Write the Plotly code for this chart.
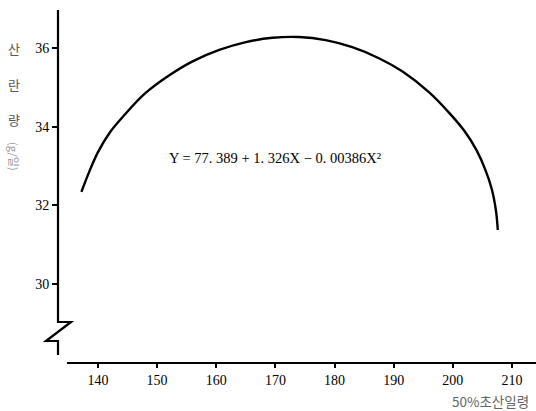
import plotly.graph_objects as go

# Data (X: 50% age at first laying, Y: laying amount)
x_vals = [137.2, 138.6, 140.0, 142.0, 144.5, 148.0, 152.0, 156.0, 160.5,
          165.0, 169.5, 174.0, 178.5, 183.0, 187.5, 191.5, 196.0, 199.5,
          202.0, 204.0, 205.5, 206.6, 207.3, 207.6]
y_vals = [32.34, 32.88, 33.35, 33.85, 34.30, 34.85, 35.30, 35.66, 35.95,
          36.15, 36.26, 36.28, 36.20, 36.02, 35.74, 35.40, 34.87, 34.33,
          33.88, 33.40, 32.90, 32.40, 31.85, 31.37]
x_ticks = [140, 150, 160, 170, 180, 190, 200, 210]
y_ticks = [30, 32, 34, 36]
equation = "Y = 77. 389 + 1. 326X − 0. 00386X²"

W, H = 536, 411
L, R, T, B = 58, 0, 10, 48
pw, ph = W - L - R, H - T - B

def px(x):
    return (x - L) / pw

def py(y):
    return (H - B - y) / ph

fig = go.Figure()
fig.add_trace(go.Scatter(
    x=x_vals, y=y_vals, mode="lines",
    line=dict(color="black", width=2.4, shape="spline", smoothing=1.0),
    hoverinfo="skip", showlegend=False,
))

serif = "Liberation Serif"
fig.update_layout(
    width=W, height=H, margin=dict(l=L, r=R, t=T, b=B),
    paper_bgcolor="white", plot_bgcolor="white",
    showlegend=False,
    xaxis=dict(range=[133.24, 214.06], tickvals=x_ticks, showgrid=False,
               zeroline=False, showline=False, ticks="outside", ticklen=4,
               tickwidth=1.5, tickcolor="black",
               tickfont=dict(family=serif, size=14, color="black")),
    yaxis=dict(range=[27.985, 36.967], tickvals=y_ticks, showgrid=False,
               zeroline=False, showline=False, ticks="outside", ticklen=5,
               tickwidth=1.5, tickcolor="black",
               tickfont=dict(family=serif, size=14, color="black")),
)

# x axis line
fig.add_shape(type="line", xref="paper", yref="paper",
              x0=px(67), x1=1, y0=0, y1=0,
              line=dict(color="black", width=2))
# y axis line with break symbol
path = (f"M {px(58)},{py(10)} L {px(58)},{py(322)} L {px(71)},{py(322)} "
        f"L {px(46)},{py(341)} L {px(58)},{py(341)} L {px(58)},{py(355)}")
fig.add_shape(type="path", xref="paper", yref="paper", path=path,
              line=dict(color="black", width=2.2))

# equation
fig.add_annotation(xref="paper", yref="paper", x=px(275), y=py(158),
                   xanchor="center", text=equation, showarrow=False,
                   font=dict(family=serif, size=14.5, color="black"))

# y axis title (stacked)
kfont = "Noto Sans CJK KR"
for ch, yy in [("산", 48), ("란", 85), ("량", 120)]:
    fig.add_annotation(xref="paper", yref="paper", x=px(14), y=py(yy),
                       xanchor="center", yanchor="middle",
                       text=ch, showarrow=False,
                       font=dict(family=kfont, size=13, color="#555"))
fig.add_annotation(xref="paper", yref="paper", x=px(14), y=py(156),
                   xanchor="center", yanchor="middle",
                   text="(g/일)", textangle=90, showarrow=False,
                   font=dict(family=kfont, size=11, color="#999"))

# x axis title
fig.add_annotation(xref="paper", yref="paper", x=px(531), y=py(401),
                   xanchor="right", yanchor="middle", text="50%초산일령",
                   showarrow=False,
                   font=dict(family=kfont, size=13.5, color="#666"))

fig.write_html("out.html")
